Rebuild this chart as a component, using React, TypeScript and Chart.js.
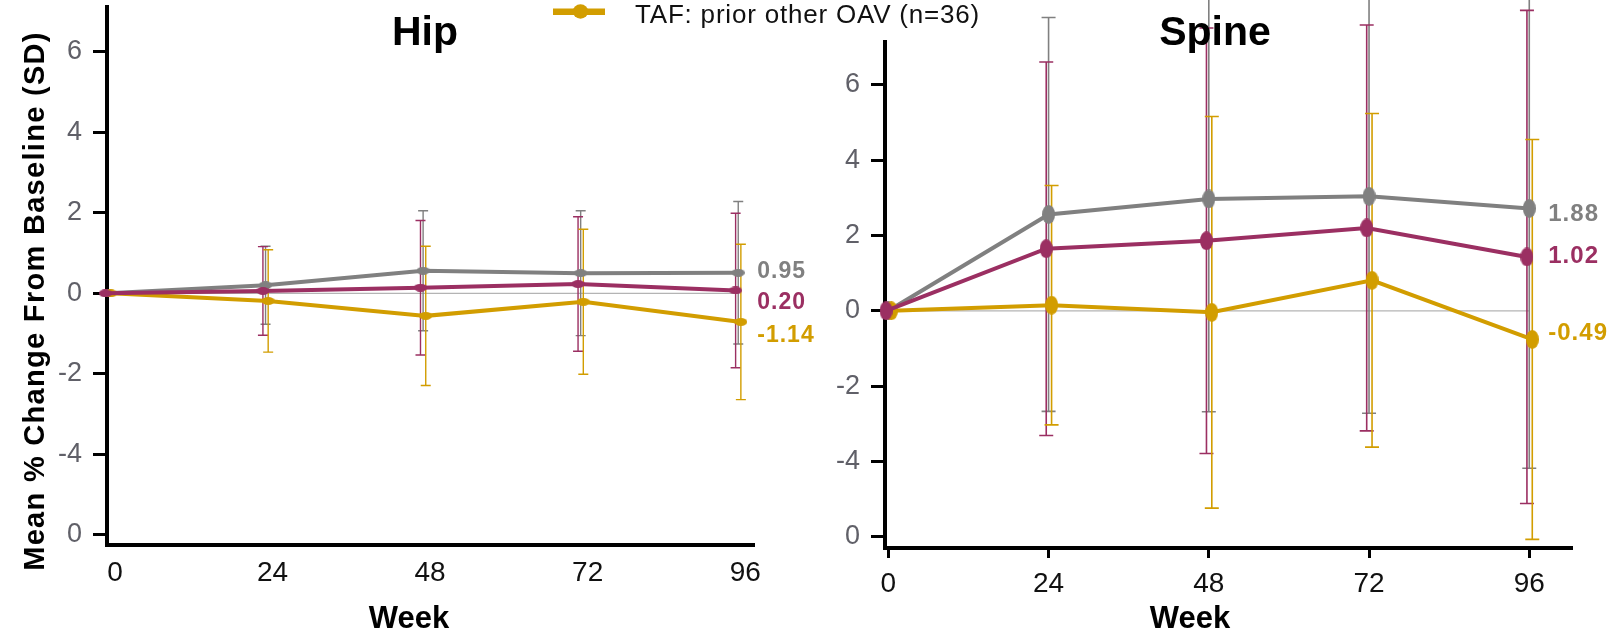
import React, { useEffect, useRef } from 'react';
import { Chart, registerables } from 'chart.js';

Chart.register(...registerables);

// ---------- data ----------
const weeks = [0, 24, 48, 72, 96];
const xTickLabels = ['0', '24', '48', '72', '96'];
const yTickValues = [-6, -4, -2, 0, 2, 4, 6];
const yTickLabels = ['0', '-4', '-2', '0', '2', '4', '6'];

const seriesNames = ['Comparator group 1', 'Comparator group 2', 'TAF: prior other OAV (n=36)'];
const legendLabel = 'TAF: prior other OAV (n=36)';

// Hip: mean and SD per week
const hipGrayMean = [0, 0.2, 0.56, 0.5, 0.51];
const hipGraySD = [0, 0.97, 1.49, 1.55, 1.77];
const hipPurpleMean = [0, 0.06, 0.14, 0.23, 0.07];
const hipPurpleSD = [0, 1.1, 1.67, 1.67, 1.92];
const hipGoldMean = [0, -0.19, -0.56, -0.21, -0.71];
const hipGoldSD = [0, 1.27, 1.73, 1.8, 1.93];
const hipEndLabels = ['0.95', '0.20', '-1.14'];

// Spine: mean and SD per week
const spineGrayMean = [0, 2.56, 2.97, 3.04, 2.72];
const spineGraySD = [0, 5.23, 5.65, 5.76, 6.9];
const spinePurpleMean = [0, 1.65, 1.86, 2.2, 1.43];
const spinePurpleSD = [0, 4.96, 5.65, 5.39, 6.55];
const spineGoldMean = [0, 0.15, -0.04, 0.81, -0.76];
const spineGoldSD = [0, 3.18, 5.2, 4.43, 5.31];
const spineEndLabels = ['1.88', '1.02', '-0.49'];

// ---------- styling / layout ----------
const FONT = '"Liberation Sans", Arial, Helvetica, sans-serif';
const CANVAS_H = 631;
const GRAY = '#808080';
const PURPLE = '#9b2f62';
const GOLD = '#d29d00';

function ellipseMarker(w: number, h: number, color: string) {
  const c = document.createElement('canvas');
  c.width = w;
  c.height = h;
  const g = c.getContext('2d')!;
  g.fillStyle = color;
  g.beginPath();
  g.ellipse(w / 2, h / 2, w / 2, h / 2, 0, 0, Math.PI * 2);
  g.fill();
  return c;
}

type Series = { name: string; mean: number[]; sd: number[]; color: string; dodge: number; order: number };

type Panel = {
  canvasW: number; left: number; right: number; top: number; bottom: number;
  xMin: number; xMax: number; yMin: number; yMax: number;
  markerW: number; markerH: number; capHalf: number; barWidth: number;
  xTickMarks: boolean; xPad: number; xLabelOffset: number;
  title: string; titleX: number; weekX: number;
  endLabels: string[]; endLabelAnchors: number[]; endLabelFont: number; endLabelDx: number;
  yTitle: boolean; legend: boolean;
  series: Series[];
};

const hipPanel: Panel = {
  canvasW: 1000, left: 107, right: 754, top: 7, bottom: 545,
  xMin: -0.15, xMax: 98.4, yMin: -6.25, yMax: 7.11,
  markerW: 13, markerH: 8, capHalf: 5, barWidth: 1.4,
  xTickMarks: false, xPad: 11, xLabelOffset: 7,
  title: 'Hip', titleX: 425, weekX: 409,
  endLabels: hipEndLabels, endLabelAnchors: [0.54, -0.22, -1.04], endLabelFont: 23, endLabelDx: 19,
  yTitle: true, legend: true,
  series: [
    { name: seriesNames[0], mean: hipGrayMean, sd: hipGraySD, color: GRAY, dodge: 0, order: 2 },
    { name: seriesNames[1], mean: hipPurpleMean, sd: hipPurpleSD, color: PURPLE, dodge: -0.4, order: 0 },
    { name: seriesNames[2], mean: hipGoldMean, sd: hipGoldSD, color: GOLD, dodge: 0.4, order: 1 },
  ],
};

const SPINE_OFFSET = 780;
const spinePanel: Panel = {
  canvasW: 835, left: 105, right: 792, top: 42, bottom: 548,
  xMin: -0.5, xMax: 102.4, yMin: -6.3, yMax: 7.14,
  markerW: 13, markerH: 19, capHalf: 7, barWidth: 1.6,
  xTickMarks: true, xPad: 9, xLabelOffset: 0,
  title: 'Spine', titleX: 435, weekX: 410,
  endLabels: spineEndLabels, endLabelAnchors: [2.55, 1.44, -0.59], endLabelFont: 24, endLabelDx: 19,
  yTitle: false, legend: false,
  series: [
    { name: seriesNames[0], mean: spineGrayMean, sd: spineGraySD, color: GRAY, dodge: 0, order: 2 },
    { name: seriesNames[1], mean: spinePurpleMean, sd: spinePurpleSD, color: PURPLE, dodge: -0.35, order: 0 },
    { name: seriesNames[2], mean: spineGoldMean, sd: spineGoldSD, color: GOLD, dodge: 0.45, order: 1 },
  ],
};

function panelPlugin(p: Panel) {
  return {
    id: 'panelExtras',
    beforeDatasetsDraw(chart: any) {
      const { ctx } = chart;
      const xs = chart.scales.x;
      const ys = chart.scales.y;
      ctx.save();
      // zero reference line
      ctx.strokeStyle = '#b4b4b4';
      ctx.lineWidth = 1.2;
      ctx.beginPath();
      ctx.moveTo(xs.getPixelForValue(weeks[0]), ys.getPixelForValue(0));
      ctx.lineTo(xs.getPixelForValue(weeks[weeks.length - 1]), ys.getPixelForValue(0));
      ctx.stroke();
      // error bars (mean ± SD)
      p.series.forEach((s) => {
        ctx.strokeStyle = s.color;
        ctx.lineWidth = p.barWidth;
        s.mean.forEach((m, i) => {
          const sd = s.sd[i];
          if (!sd) return;
          const x = xs.getPixelForValue(weeks[i] + s.dodge);
          const yt = ys.getPixelForValue(m + sd);
          const yb = ys.getPixelForValue(m - sd);
          ctx.beginPath();
          ctx.moveTo(x, yt);
          ctx.lineTo(x, yb);
          ctx.moveTo(x - p.capHalf, yt);
          ctx.lineTo(x + p.capHalf, yt);
          ctx.moveTo(x - p.capHalf, yb);
          ctx.lineTo(x + p.capHalf, yb);
          ctx.stroke();
        });
      });
      ctx.restore();
    },
    afterDraw(chart: any) {
      const { ctx } = chart;
      const xs = chart.scales.x;
      const ys = chart.scales.y;
      ctx.save();
      // panel title
      ctx.fillStyle = '#000';
      ctx.font = `bold 41px ${FONT}`;
      ctx.textAlign = 'center';
      ctx.textBaseline = 'alphabetic';
      ctx.fillText(p.title, p.titleX, 45);
      // x axis title
      ctx.font = `bold 31px ${FONT}`;
      ctx.fillText('Week', p.weekX, 628);
      // end-of-line value labels
      ctx.textAlign = 'left';
      ctx.textBaseline = 'middle';
      ctx.font = `bold ${p.endLabelFont}px ${FONT}`;
      (ctx as any).letterSpacing = '1px';
      const xEnd = xs.getPixelForValue(weeks[weeks.length - 1]) + p.endLabelDx;
      p.series.forEach((s, k) => {
        ctx.fillStyle = s.color;
        ctx.fillText(p.endLabels[k], xEnd, ys.getPixelForValue(p.endLabelAnchors[k]));
      });
      (ctx as any).letterSpacing = '0px';
      // y axis title
      if (p.yTitle) {
        ctx.save();
        ctx.translate(43.5, 301);
        ctx.rotate(-Math.PI / 2);
        ctx.fillStyle = '#000';
        ctx.font = `bold 29px ${FONT}`;
        (ctx as any).letterSpacing = '1.3px';
        ctx.textAlign = 'center';
        ctx.textBaseline = 'alphabetic';
        ctx.fillText('Mean % Change From Baseline (SD)', 0, 0);
        ctx.restore();
      }
      // legend entry
      if (p.legend) {
        ctx.strokeStyle = GOLD;
        ctx.lineWidth = 6.5;
        ctx.beginPath();
        ctx.moveTo(553, 11.7);
        ctx.lineTo(605, 11.7);
        ctx.stroke();
        ctx.fillStyle = GOLD;
        ctx.beginPath();
        ctx.ellipse(580.5, 11.5, 7.8, 7.2, 0, 0, Math.PI * 2);
        ctx.fill();
        ctx.fillStyle = '#111';
        ctx.font = `26px ${FONT}`;
        (ctx as any).letterSpacing = '0.8px';
        ctx.textAlign = 'left';
        ctx.textBaseline = 'alphabetic';
        ctx.fillText(legendLabel, 635, 22.7);
        (ctx as any).letterSpacing = '0px';
      }
      ctx.restore();
    },
  };
}

function makeChart(canvas: HTMLCanvasElement, p: Panel) {
  const datasets = p.series.map((s) => ({
    label: s.name,
    data: weeks.map((w, i) => ({ x: w + s.dodge, y: s.mean[i] })),
    borderColor: s.color,
    backgroundColor: s.color,
    borderWidth: 4,
    pointStyle: ellipseMarker(p.markerW, p.markerH, s.color) as any,
    pointRadius: 6,
    order: s.order,
    tension: 0,
    clip: false as any,
  }));
  return new Chart(canvas, {
    type: 'line',
    data: { datasets },
    options: {
      animation: false,
      responsive: false,
      events: [],
      layout: {
        autoPadding: false,
        padding: { left: 0, top: p.top, right: p.canvasW - p.right, bottom: 0 },
      },
      plugins: { legend: { display: false }, tooltip: { enabled: false }, title: { display: false } },
      scales: {
        x: {
          type: 'linear',
          min: p.xMin,
          max: p.xMax,
          afterBuildTicks: (sc: any) => {
            sc.ticks = weeks.map((v) => ({ value: v }));
          },
          afterFit: (sc: any) => {
            sc.height = CANVAS_H - p.bottom;
            sc.paddingLeft = 0;
            sc.paddingRight = 0;
          },
          grid: {
            display: p.xTickMarks,
            drawOnChartArea: false,
            drawTicks: p.xTickMarks,
            tickLength: 10,
            tickWidth: 3,
            tickColor: '#000',
          },
          border: { display: true, color: '#000', width: 4 },
          ticks: {
            autoSkip: false,
            maxRotation: 0,
            minRotation: 0,
            padding: p.xPad,
            labelOffset: p.xLabelOffset,
            color: '#111',
            font: { family: FONT, size: 28 },
            callback: (v: any) => xTickLabels[weeks.indexOf(Number(v))],
          },
        },
        y: {
          type: 'linear',
          min: p.yMin,
          max: p.yMax,
          afterBuildTicks: (sc: any) => {
            sc.ticks = yTickValues.map((v) => ({ value: v }));
          },
          afterFit: (sc: any) => {
            sc.width = p.left;
            sc.paddingTop = 0;
            sc.paddingBottom = 0;
          },
          grid: {
            display: true,
            drawOnChartArea: false,
            drawTicks: true,
            tickLength: 14,
            tickWidth: 3,
            tickColor: '#000',
          },
          border: { display: true, color: '#000', width: 4 },
          ticks: {
            autoSkip: false,
            padding: 11,
            color: '#606068',
            font: { family: FONT, size: 27 },
            callback: (v: any) => yTickLabels[yTickValues.indexOf(Number(v))],
          },
        },
      },
    } as any,
    plugins: [panelPlugin(p)],
  });
}

export default function App() {
  const hipRef = useRef<HTMLCanvasElement>(null);
  const spineRef = useRef<HTMLCanvasElement>(null);

  useEffect(() => {
    const c1 = makeChart(hipRef.current!, hipPanel);
    const c2 = makeChart(spineRef.current!, spinePanel);
    return () => {
      c1.destroy();
      c2.destroy();
    };
  }, []);

  return (
    <div
      style={{
        position: 'absolute',
        left: 0,
        top: 0,
        width: 1615,
        height: CANVAS_H,
        background: '#fff',
        overflow: 'hidden',
      }}
    >
      <canvas
        ref={hipRef}
        width={hipPanel.canvasW}
        height={CANVAS_H}
        style={{ position: 'absolute', left: 0, top: 0 }}
      />
      <canvas
        ref={spineRef}
        width={spinePanel.canvasW}
        height={CANVAS_H}
        style={{ position: 'absolute', left: SPINE_OFFSET, top: 0 }}
      />
    </div>
  );
}
